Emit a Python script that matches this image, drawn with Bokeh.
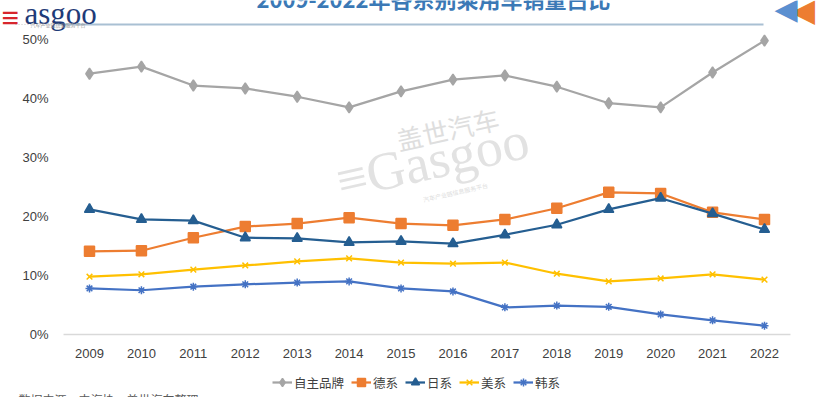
from bokeh.plotting import figure
from bokeh.models import (Range1d, FixedTicker, PrintfTickFormatter, Legend, LegendItem,
                          Label, ColumnDataSource)
from bokeh.embed import file_html
from bokeh.resources import INLINE

# ---------------- data ----------------
years = [2009, 2010, 2011, 2012, 2013, 2014, 2015, 2016, 2017, 2018, 2019, 2020, 2021, 2022]
series_names = ["自主品牌", "德系", "日系", "美系", "韩系"]
own_brand = [44.2, 45.4, 42.2, 41.7, 40.3, 38.5, 41.2, 43.2, 43.9, 42.0, 39.2, 38.5, 44.4, 49.8]
german = [14.1, 14.2, 16.4, 18.3, 18.8, 19.8, 18.8, 18.5, 19.5, 21.4, 24.1, 23.9, 20.7, 19.5]
japanese = [21.2, 19.5, 19.3, 16.4, 16.3, 15.6, 15.8, 15.4, 16.9, 18.6, 21.2, 23.1, 20.5, 17.8]
american = [9.8, 10.2, 11.0, 11.7, 12.4, 12.9, 12.2, 12.0, 12.2, 10.3, 9.0, 9.5, 10.2, 9.3]
korean = [7.8, 7.5, 8.1, 8.5, 8.8, 9.0, 7.8, 7.3, 4.6, 4.9, 4.7, 3.4, 2.4, 1.5]
y_ticks = [0, 10, 20, 30, 40, 50]
title_text = "2009-2022年各系别乘用车销量占比"
source_text = "数据来源：中汽协，盖世汽车整理"

W, H = 820, 397
PX_PER_YEAR = (764 - 89) / 13.0
PX_PER_PCT = 5.9
X_FIRST_PX, Y_ZERO_PX = 89, 334
X0 = years[0] - X_FIRST_PX / PX_PER_YEAR
X1 = years[0] + (W - X_FIRST_PX) / PX_PER_YEAR
Y0 = -(H - Y_ZERO_PX) / PX_PER_PCT
Y1 = Y_ZERO_PX / PX_PER_PCT

p = figure(width=W, height=H, output_backend="svg", toolbar_location=None,
           x_range=Range1d(X0, X1), y_range=Range1d(Y0, Y1), min_border=0)
p.outline_line_color = None
p.xgrid.visible = False
p.ygrid.visible = False
p.background_fill_color = "white"
p.border_fill_color = "white"

FONT = "Liberation Sans"
CJK = "Noto Sans CJK SC"

# axes drawn inside the frame at fixed positions
p.xaxis.fixed_location = 0
p.xaxis.ticker = FixedTicker(ticks=years)
p.xaxis.axis_line_color = None
p.xaxis.major_tick_line_color = None
p.xaxis.minor_tick_line_color = None
p.xaxis.major_label_standoff = 8
p.xaxis.major_label_text_font = FONT
p.xaxis.major_label_text_font_size = "13px"
p.xaxis.major_label_text_color = "#404040"

p.yaxis.fixed_location = years[0] - 0.5
p.yaxis.ticker = FixedTicker(ticks=y_ticks)
p.yaxis.formatter = PrintfTickFormatter(format="%d%%")
p.yaxis.axis_line_color = None
p.yaxis.major_tick_line_color = None
p.yaxis.minor_tick_line_color = None
p.yaxis.major_label_standoff = 9
p.yaxis.major_label_text_font = FONT
p.yaxis.major_label_text_font_size = "13px"
p.yaxis.major_label_text_color = "#404040"

# page-pixel helpers for decorations only
def dx(px):
    return X0 + px / PX_PER_YEAR

def dy(py):
    return (Y_ZERO_PX - py) / PX_PER_PCT

# baseline of the category axis
p.segment(x0=[years[0] - 0.5], y0=[0], x1=[years[-1] + 0.5], y1=[0],
          line_color="#d9d9d9", line_width=1.5)

# ---------------- decorations ----------------
p.line([dx(57), dx(763)], [dy(24), dy(24)], line_color="#a9c0d3", line_width=2)
p.line([dx(15), dx(50)], [dy(24), dy(24)], line_color="#c8c8c8", line_width=1, line_dash="1 2")

wm1 = Label(x=dx(447), y=dy(128), text="盖世汽车", text_font=CJK, text_font_size="26px",
            text_color="#dedede", angle=0.22, text_align="center", text_baseline="middle")
wm2 = Label(x=dx(432), y=dy(160), text="≡Gasgoo", text_font="Liberation Serif",
            text_font_size="54px", text_color="#e2e2e2", angle=0.22,
            text_align="center", text_baseline="middle")
wm3 = Label(x=dx(455), y=dy(192), text="汽车产业链信息服务平台", text_font=CJK, text_font_size="6px",
            text_color="#dcdcdc", angle=0.22, text_align="center", text_baseline="middle")
for l in (wm1, wm2, wm3):
    p.add_layout(l)

logo1 = Label(x=dx(1), y=dy(17), text="≡", text_font=FONT, text_font_size="30px",
              text_color="#d7262d", text_font_style="bold", text_baseline="alphabetic")
logo2 = Label(x=dx(24), y=dy(13), text="asgoo", text_font="Liberation Serif", text_font_size="31px",
              text_color="#1f3b78", text_baseline="alphabetic")
logo3 = Label(x=dx(30), y=dy(24), text="汽车产业链信息服务平台", text_font=CJK, text_font_size="5px",
              text_color="#999999", text_baseline="middle")
title = Label(x=dx(433), y=dy(-3), text=title_text, text_font=CJK, text_font_size="22px",
              text_font_style="bold", text_color="#3b79b6", text_align="center",
              text_baseline="middle")
arr1 = Label(x=dx(790), y=dy(9), text="◀", text_font="DejaVu Sans", text_font_size="32px",
             text_color="#ed7d31", text_align="left", text_baseline="middle")
arr2 = Label(x=dx(774), y=dy(8), text="◀", text_font="DejaVu Sans", text_font_size="30px",
             text_color="#5b8fd0", text_align="left", text_baseline="middle")
src_lbl = Label(x=dx(18), y=dy(399), text=source_text, text_font=CJK, text_font_size="12px",
                text_color="#595959", text_baseline="middle")
for l in (logo1, logo2, logo3, title, arr1, arr2, src_lbl):
    p.add_layout(l)

# ---------------- series ----------------
specs = [
    (own_brand, "#a5a5a5", "diamond", 11),
    (german, "#ed7d31", "square", 10),
    (japanese, "#255e91", "triangle", 10),
    (american, "#ffc000", "x", 8),
    (korean, "#4472c4", "asterisk", 8),
]
items = []
for name, (vals, color, marker, size) in zip(series_names, specs):
    src = ColumnDataSource(dict(x=years, y=vals))
    ln = p.line("x", "y", source=src, line_color=color, line_width=2.25)
    sc = p.scatter("x", "y", source=src, marker=marker, size=size,
                   fill_color=color, line_color=color, line_width=1.5)
    items.append(LegendItem(label=name, renderers=[ln, sc]))

legend = Legend(items=items, orientation="horizontal", location=(272, 5),
                glyph_width=20, glyph_height=20, label_standoff=2, spacing=7,
                padding=0, margin=0, border_line_color=None, background_fill_alpha=0,
                label_text_font=CJK, label_text_font_size="12.5px", label_text_color="#404040")
p.add_layout(legend, "center")

open("out.html", "w").write(file_html(p, INLINE))
